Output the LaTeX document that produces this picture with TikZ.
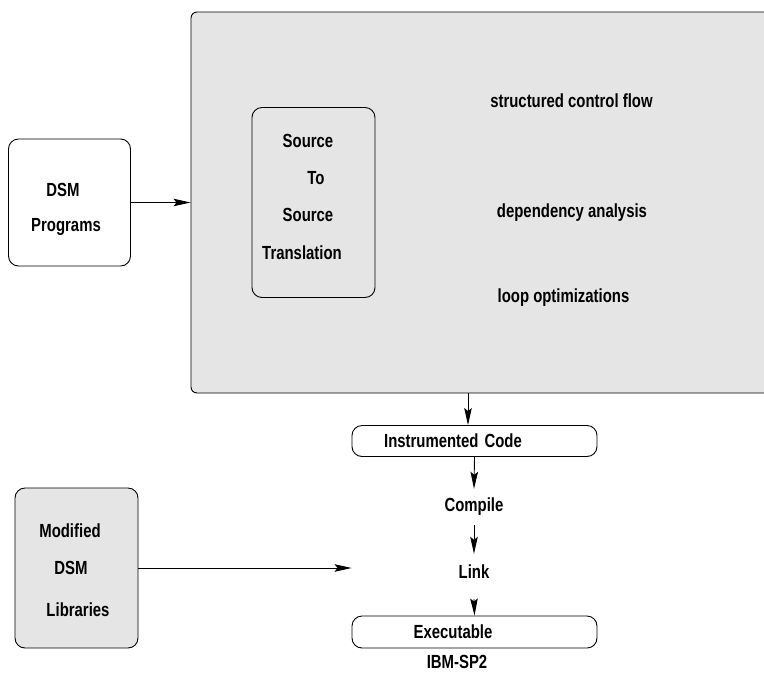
\documentclass[tikz,border=0pt]{standalone}
\usepackage{fontspec}
\setmainfont[FakeStretch=0.785]{Liberation Sans}
\usetikzlibrary{arrows.meta}
\definecolor{boxgray}{RGB}{229,229,229}
\begin{document}
\begin{tikzpicture}[x=1pt,y=-1pt,
  every node/.style={font=\fontsize{19}{37}\selectfont\bfseries, inner sep=0pt},
  box/.style={draw=black, line width=0.9pt, rounded corners=10pt},
  graybox/.style={box, fill=boxgray},
  bigbox/.style={draw=black, line width=0.9pt, rounded corners=6pt, fill=boxgray},
  lbl/.style={},
  arr/.style={draw=black, line width=0.9pt, -{Stealth[length=17pt,width=7.5pt,inset=3pt]}}
]
\useasboundingbox (0,0) rectangle (764,673);

% large shaded region (runs off the right edge)
\node[bigbox, minimum width=600pt, minimum height=381pt] (main) at (491,202.5) {};

% DSM Programs
\node[box, fill=white, minimum width=122pt, minimum height=127pt] (dsm) at (69.5,202.5) {};
\node[lbl] (d1) at (63,190) {DSM};
\node[lbl] (d2) at (66,227) {Programs};

% Source to Source Translation box
\node[box, minimum width=123pt, minimum height=190pt] (s2s) at (313.5,202.5) {};
\node[lbl] (t1) at (308,141) {Source};
\node[lbl] (t2) at (316,178) {To};
\node[lbl] (t3) at (308,215) {Source};
\node[lbl] (t4) at (302,253) {Translation};

% feature texts
\node[lbl] (f1) at (571.5,101) {structured control flow};
\node[lbl] (f2) at (572,213) {dependency analysis};
\node[lbl] (f3) at (563.5,298) {loop optimizations};

% flow
\node[box, fill=white, minimum width=245pt, minimum height=31pt] (instr) at (474.5,441) {Instrumented\kern6pt Code\kern43pt};
\node[lbl, minimum height=36pt] (compile) at (474,507) {Compile};
\node[lbl, minimum height=36pt] (link) at (474,572) {Link};
\node[box, fill=white, minimum width=245pt, minimum height=32pt] (exe) at (474.5,632) {Executable\kern43pt};
\node[lbl] (ibm) at (457,662) {IBM-SP2};

% Modified DSM Libraries
\node[graybox, minimum width=123pt, minimum height=160pt] (libs) at (76.5,568) {};
\node[lbl] (l1) at (70,531) {Modified};
\node[lbl] (l2) at (71,568) {DSM};
\node[lbl] (l3) at (78,610) {Libraries};

% connectors
\draw[arr] (dsm.east) -- (dsm.east -| main.west);
\coordinate (mainout) at ([xshift=-6.5pt]main.south -| instr.north);
\draw[arr] (mainout) -- (mainout |- instr.north);
\draw[arr] (instr.south) -- (compile.north);
\draw[arr] (compile.south) -- (link.north);
\draw[arr] ([yshift=-9pt]link.south) -- (exe.north);
\draw[arr] (libs.east) -- (libs.east -| exe.west);
\end{tikzpicture}
\end{document}
